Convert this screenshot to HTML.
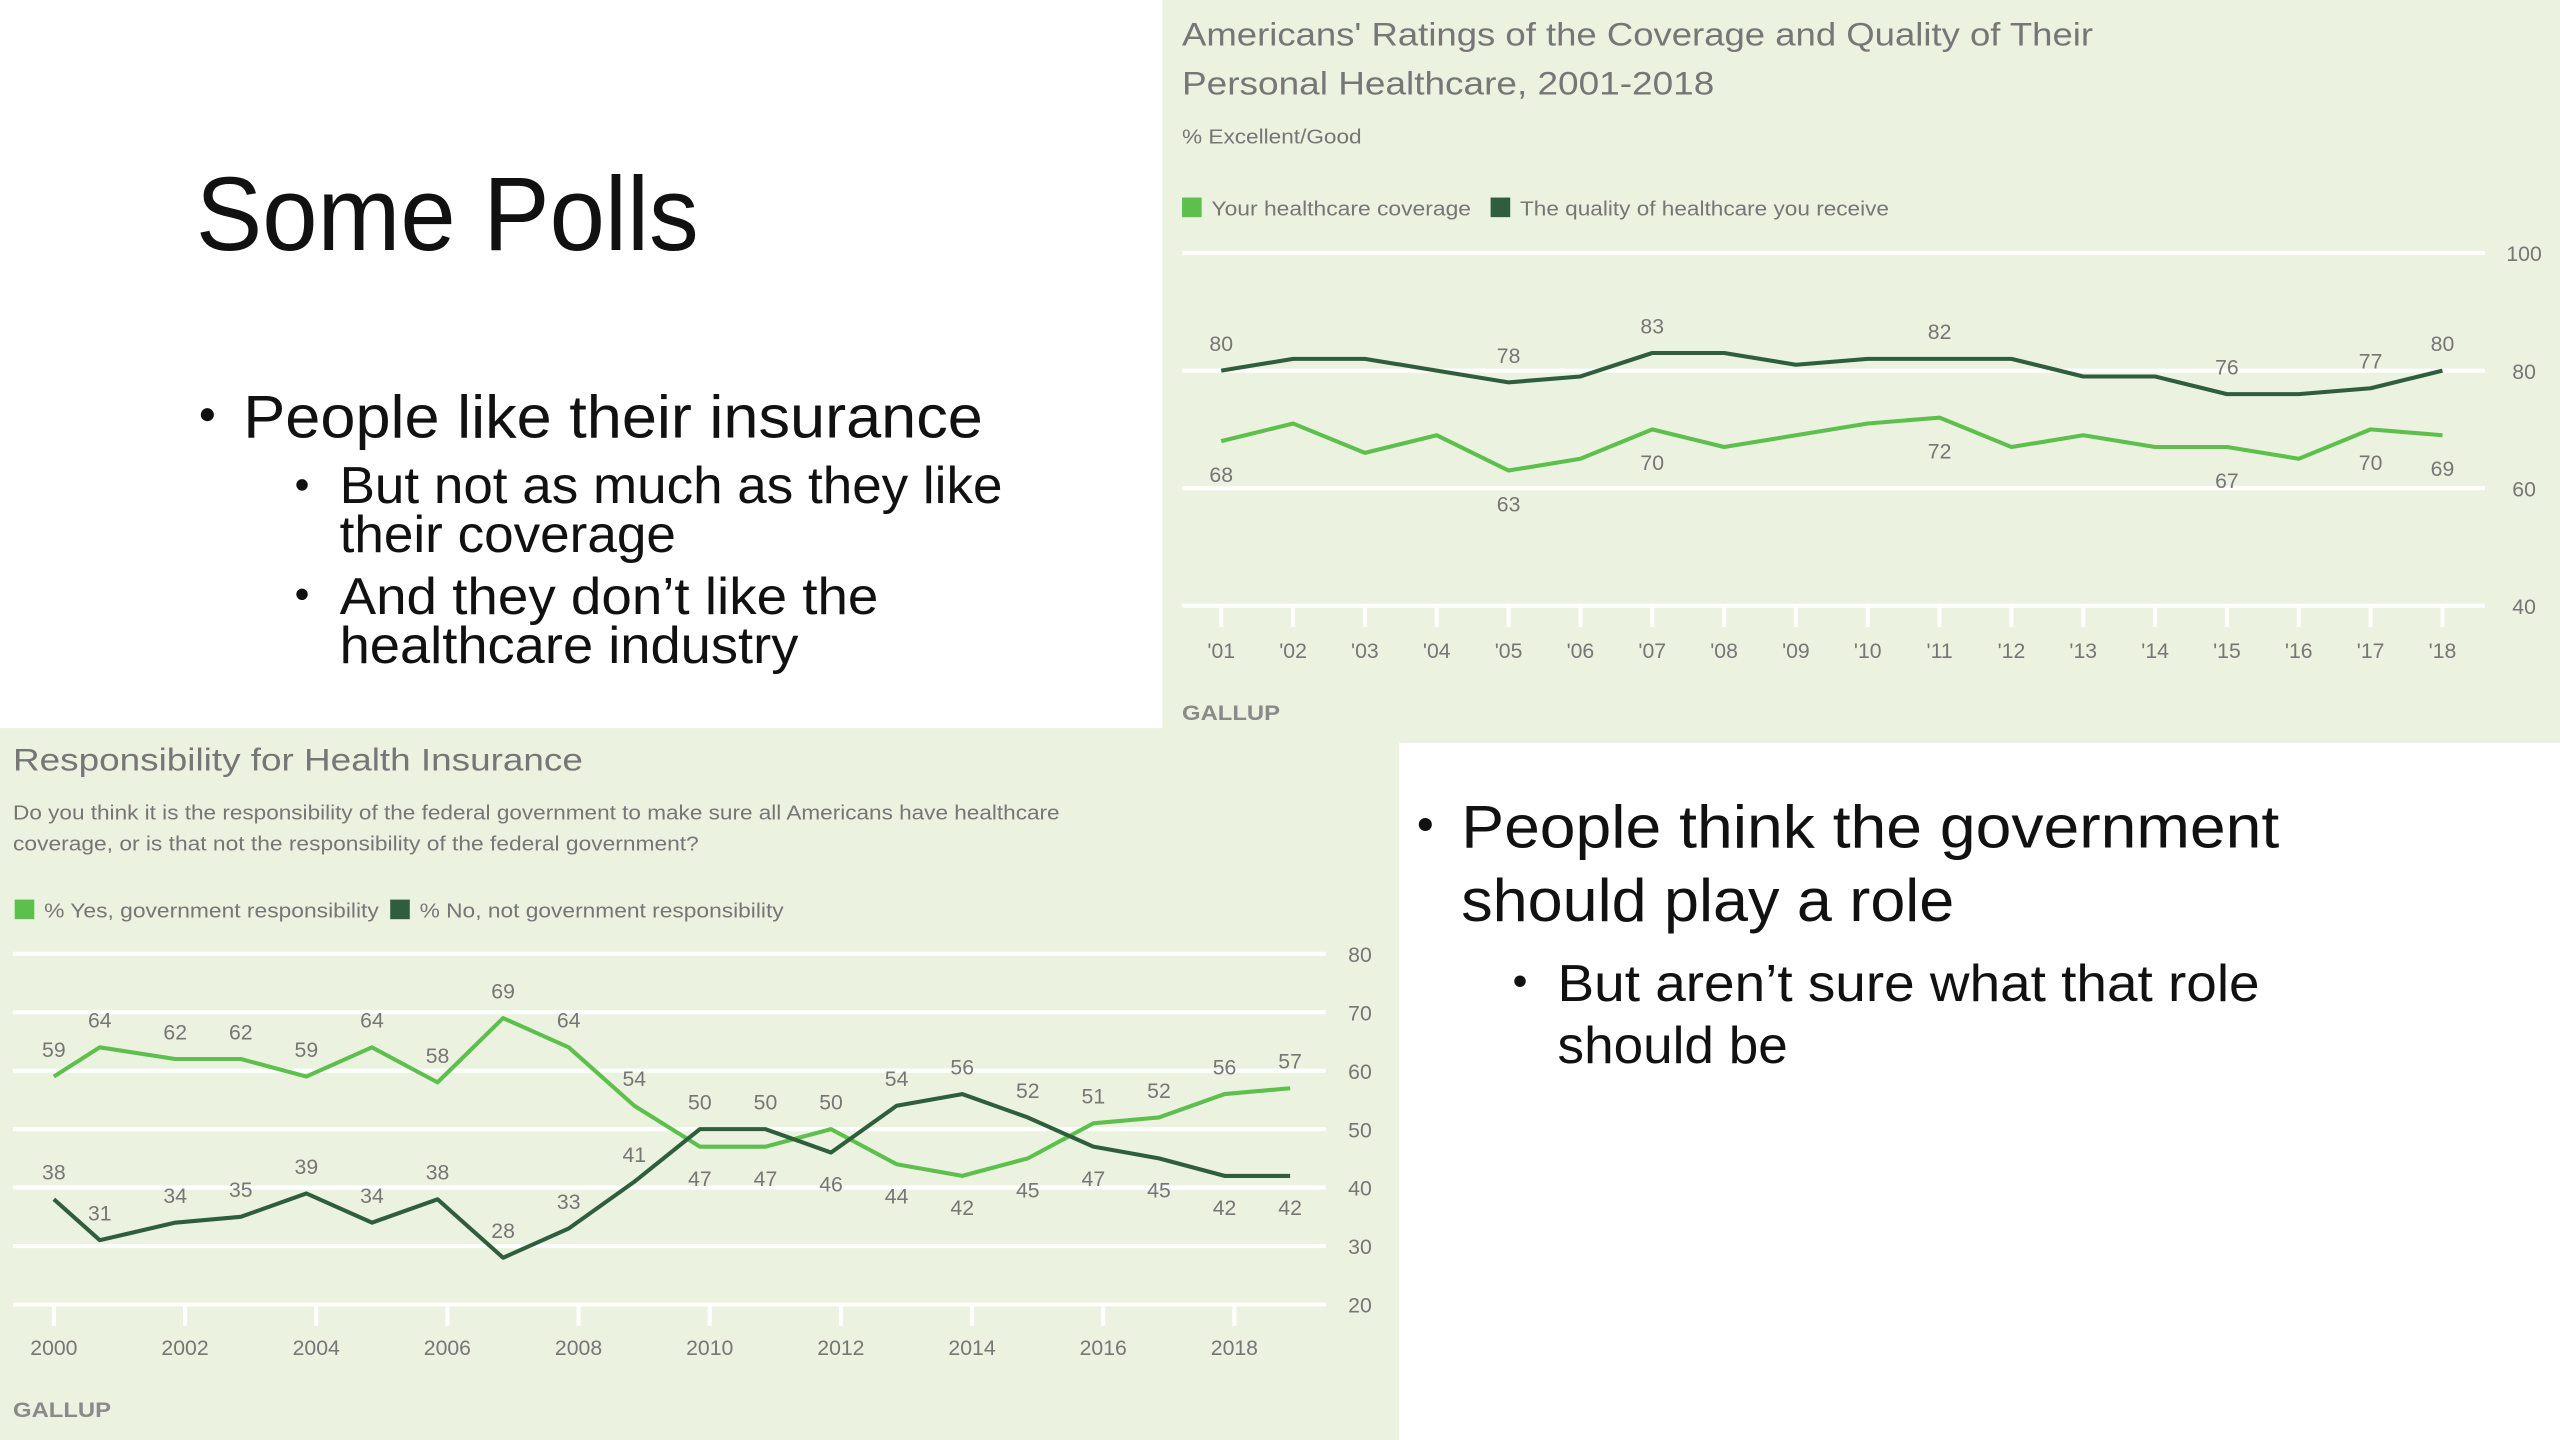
<!DOCTYPE html>
<html><head><meta charset="utf-8"><style>
html,body{margin:0;padding:0;background:#fff;}
svg{display:block;}
text{font-family:"Liberation Sans",sans-serif;}
.slide{fill:#111;}
.g{fill:#767676;}
</style></head><body>
<svg id="root" width="2560" height="1440" viewBox="0 0 1568 882" preserveAspectRatio="none">
<rect x="0" y="0" width="1568" height="882" fill="#fff"/>
<rect x="712" y="0" width="856" height="455" fill="#ebf2df"/>
<rect x="0" y="446" width="857" height="436" fill="#ebf2df"/>

<text class="slide" x="120" y="153" font-size="64" textLength="308" lengthAdjust="spacingAndGlyphs">Some Polls</text>
<g>
<circle cx="127" cy="254" r="4" fill="#111"/>
<text class="slide" x="149" y="268" font-size="37" textLength="453" lengthAdjust="spacingAndGlyphs">People like their insurance</text>
<circle cx="185" cy="297" r="3.5" fill="#111"/>
<text class="slide" x="208" y="308" font-size="32" textLength="406" lengthAdjust="spacingAndGlyphs">But not as much as they like</text>
<text class="slide" x="208" y="338" font-size="32" textLength="206" lengthAdjust="spacingAndGlyphs">their coverage</text>
<circle cx="185" cy="364" r="3.5" fill="#111"/>
<text class="slide" x="208" y="376" font-size="32" textLength="330" lengthAdjust="spacingAndGlyphs">And they don’t like the</text>
<text class="slide" x="208" y="406" font-size="32" textLength="281" lengthAdjust="spacingAndGlyphs">healthcare industry</text>
</g>
<g>
<circle cx="873" cy="505" r="4" fill="#111"/>
<text class="slide" x="895" y="519" font-size="37" textLength="501" lengthAdjust="spacingAndGlyphs">People think the government</text>
<text class="slide" x="895" y="564" font-size="37" textLength="302" lengthAdjust="spacingAndGlyphs">should play a role</text>
<circle cx="931" cy="601" r="3.5" fill="#111"/>
<text class="slide" x="954" y="613" font-size="32" textLength="430" lengthAdjust="spacingAndGlyphs">But aren’t sure what that role</text>
<text class="slide" x="954" y="651" font-size="32" textLength="141" lengthAdjust="spacingAndGlyphs">should be</text>
</g>

<text class="g" x="724" y="28" font-size="20" textLength="558" lengthAdjust="spacingAndGlyphs">Americans' Ratings of the Coverage and Quality of Their</text>
<text class="g" x="724" y="58" font-size="20" textLength="326" lengthAdjust="spacingAndGlyphs">Personal Healthcare, 2001-2018</text>
<text class="g" x="724" y="88" font-size="12.5" textLength="110" lengthAdjust="spacingAndGlyphs">% Excellent/Good</text>
<g>
<rect x="724" y="121" width="12" height="12" fill="#5dbf4c"/>
<text class="g" x="742" y="132" font-size="12.5" textLength="159" lengthAdjust="spacingAndGlyphs">Your healthcare coverage</text>
<rect x="913" y="121" width="12" height="12" fill="#2f5e3c"/>
<text class="g" x="931" y="132" font-size="12.5" textLength="226" lengthAdjust="spacingAndGlyphs">The quality of healthcare you receive</text>
</g>
<text x="724" y="441" font-size="13" font-weight="bold" fill="#8a8a8a" textLength="60" lengthAdjust="spacingAndGlyphs">GALLUP</text>
<g id="c1"></g>

<text class="g" x="8" y="472" font-size="19.5" textLength="349" lengthAdjust="spacingAndGlyphs">Responsibility for Health Insurance</text>
<text class="g" x="8" y="502" font-size="12.5" textLength="641" lengthAdjust="spacingAndGlyphs">Do you think it is the responsibility of the federal government to make sure all Americans have healthcare</text>
<text class="g" x="8" y="521" font-size="12.5" textLength="420" lengthAdjust="spacingAndGlyphs">coverage, or is that not the responsibility of the federal government?</text>
<g>
<rect x="9" y="551" width="12" height="12" fill="#5dbf4c"/>
<text class="g" x="27" y="562" font-size="12.5" textLength="205" lengthAdjust="spacingAndGlyphs">% Yes, government responsibility</text>
<rect x="239" y="551" width="12" height="12" fill="#2f5e3c"/>
<text class="g" x="257" y="562" font-size="12.5" textLength="223" lengthAdjust="spacingAndGlyphs">% No, not government responsibility</text>
</g>
<text x="8" y="868" font-size="13" font-weight="bold" fill="#8a8a8a" textLength="60" lengthAdjust="spacingAndGlyphs">GALLUP</text>
<g id="c2"></g>
</svg>
<script>
// ---- Chart 1 data ----
const years1 = ["'01","'02","'03","'04","'05","'06","'07","'08","'09","'10","'11","'12","'13","'14","'15","'16","'17","'18"];
const quality = [80,82,82,80,78,79,83,83,81,82,82,82,79,79,76,76,77,80];
const coverage = [68,71,66,69,63,65,70,67,69,71,72,67,69,67,67,65,70,69];
const labeledIdx1 = [0,4,6,10,14,16,17];
const yTicks1 = [100,80,60,40];
// ---- Chart 2 data ----
const surveyDates = [2000.0,2000.7,2001.85,2002.85,2003.85,2004.85,2005.85,2006.85,2007.85,2008.85,2009.85,2010.85,2011.85,2012.85,2013.85,2014.85,2015.85,2016.85,2017.85,2018.85];
const yesVals = [59,64,62,62,59,64,58,69,64,54,47,47,50,44,42,45,51,52,56,57];
const noVals = [38,31,34,35,39,34,38,28,33,41,50,50,46,54,56,52,47,45,42,42];
const xTicks2 = [2000,2002,2004,2006,2008,2010,2012,2014,2016,2018];
const yTicks2 = [80,70,60,50,40,30,20];

const NS = "http://www.w3.org/2000/svg";
function mk(parent, tag, attrs, txt){
  const e = document.createElementNS(NS, tag);
  for (const k in attrs) e.setAttribute(k, attrs[k]);
  if (txt !== undefined) e.textContent = txt;
  parent.appendChild(e);
  return e;
}
const LIGHT = "#5dbf4c", DARK = "#2f5e3c";

const x1 = i => 748 + i * 44;
const y1 = v => 371 - (v - 40) * 3.6;
const c1 = document.getElementById('c1');
yTicks1.forEach(t => {
  const l = mk(c1, 'line', {x1:724, x2:1522, y1:y1(t), y2:y1(t), stroke:'#fff', 'stroke-width':2.5});
  
  
  const tx = mk(c1, 'text', {x:1546, y:y1(t)+5, 'font-size':13, 'text-anchor':'middle', fill:'#767676'}, t);
  
  
});
years1.forEach((yr, i) => {
  const tk = mk(c1, 'line', {x1:x1(i), x2:x1(i), y1:372, y2:384, stroke:'#fff', 'stroke-width':2.5});
  
  
  const tx = mk(c1, 'text', {x:x1(i), y:403, 'font-size':13, 'text-anchor':'middle', fill:'#767676'}, yr);
  
  
});
function series(parent, vals, xf, yf, color, name){
  const p = mk(parent, 'polyline', {points: vals.map((v,i)=>xf(i)+','+yf(v)).join(' '), fill:'none', stroke:color, 'stroke-width':2.5, 'stroke-linejoin':'round'});
  
  
}
series(c1, coverage, x1, y1, LIGHT, 'coverage-line');
series(c1, quality, x1, y1, DARK, 'quality-line');
labeledIdx1.forEach(i => {
  const a = mk(c1, 'text', {x:x1(i), y:y1(quality[i])-12, 'font-size':13, 'text-anchor':'middle', fill:'#767676'}, quality[i]);
  
  
  const b = mk(c1, 'text', {x:x1(i), y:y1(coverage[i])+25, 'font-size':13, 'text-anchor':'middle', fill:'#767676'}, coverage[i]);
  
  
});

const xd = d => 33 + (d - 2000) * 40.17;
const x2 = i => xd(surveyDates[i]);
const y2 = v => 799 - (v - 20) * 3.58;
const c2 = document.getElementById('c2');
yTicks2.forEach(t => {
  const l = mk(c2, 'line', {x1:8, x2:812, y1:y2(t), y2:y2(t), stroke:'#fff', 'stroke-width':2.5});
  
  
  const tx = mk(c2, 'text', {x:833, y:y2(t)+5, 'font-size':13, 'text-anchor':'middle', fill:'#767676'}, t);
  
  
});
xTicks2.forEach(yr => {
  const tk = mk(c2, 'line', {x1:xd(yr), x2:xd(yr), y1:800, y2:812, stroke:'#fff', 'stroke-width':2.5});
  
  
  const tx = mk(c2, 'text', {x:xd(yr), y:830, 'font-size':13, 'text-anchor':'middle', fill:'#767676'}, yr);
  
  
});
series(c2, yesVals, x2, y2, LIGHT, 'yes-line');
series(c2, noVals, x2, y2, DARK, 'no-line');
surveyDates.forEach((d, i) => {
  const early = i <= 9;
  const yesUp = early || yesVals[i] >= noVals[i];
  const noUp = early || noVals[i] > yesVals[i];
  const a = mk(c2, 'text', {x:x2(i), y: yesUp ? y2(yesVals[i])-12 : y2(yesVals[i])+24, 'font-size':13, 'text-anchor':'middle', fill:'#767676'}, yesVals[i]);
  
  
  const b = mk(c2, 'text', {x:x2(i), y: noUp ? y2(noVals[i])-12 : y2(noVals[i])+24, 'font-size':13, 'text-anchor':'middle', fill:'#767676'}, noVals[i]);
  
  
});
</script>
</body></html>
